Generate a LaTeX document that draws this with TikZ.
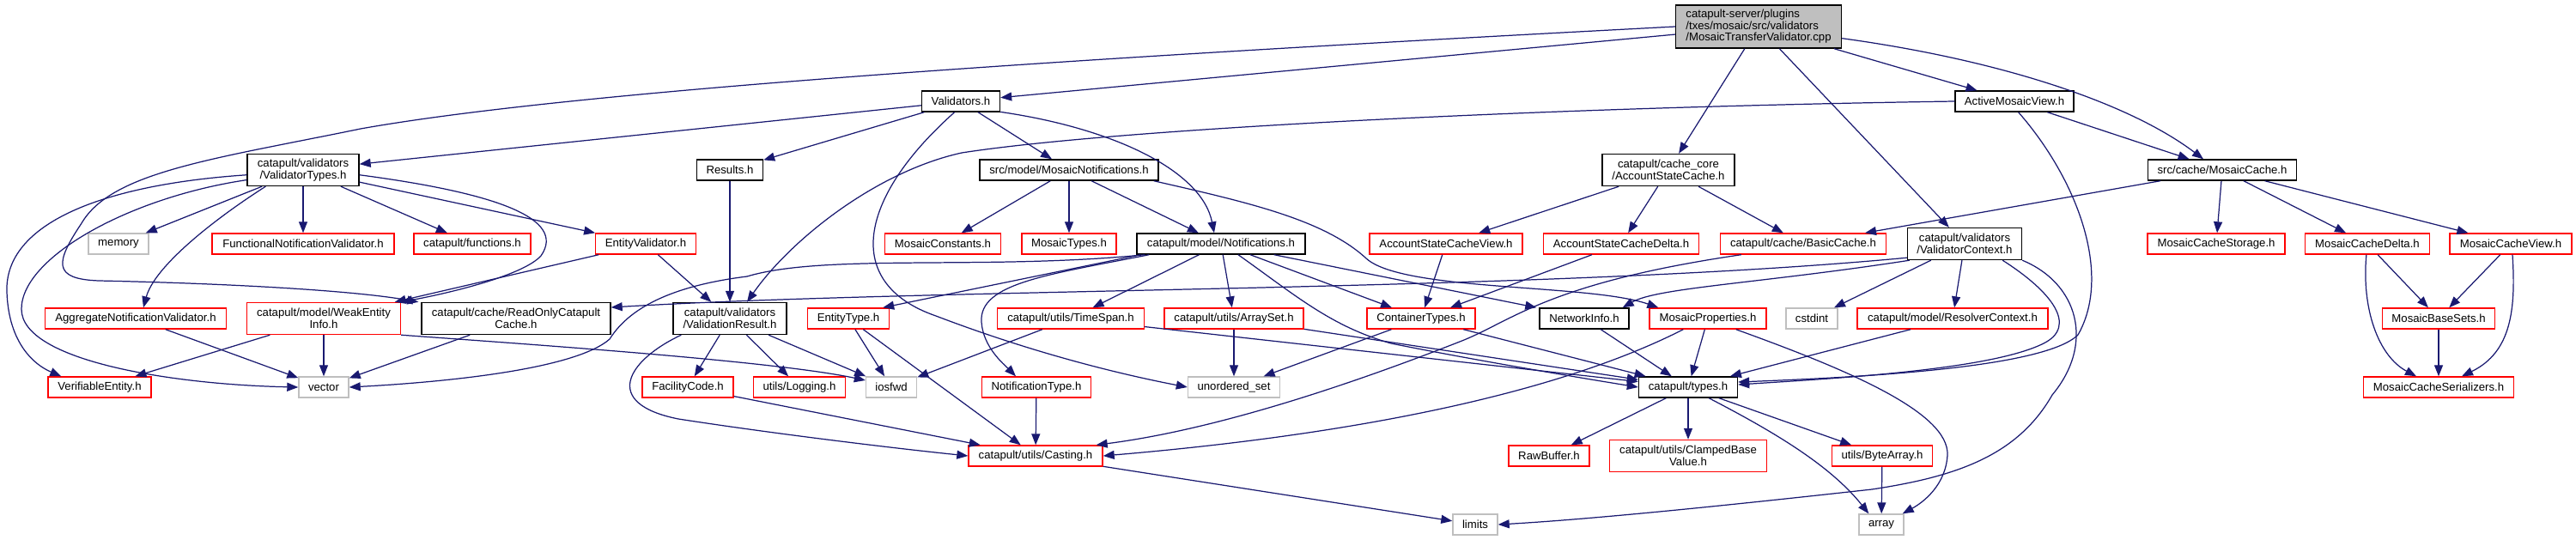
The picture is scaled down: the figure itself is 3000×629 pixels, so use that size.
\documentclass[tikz,border=0pt]{standalone}
\usepackage{fontspec}
\setmainfont{Liberation Sans}
\usetikzlibrary{arrows.meta, calc}

\definecolor{edgeblue}{RGB}{25,25,112}
\definecolor{sysgray}{RGB}{191,191,191}

\begin{document}
\begin{tikzpicture}[
    x=0.02cm, y=-0.02cm,
    hdr/.style={
        rectangle, fill=white,
        inner xsep=2pt, inner ysep=1pt,
        minimum height=0.48cm,
        align=center,
        font=\fontsize{7.5pt}{7.7pt}\selectfont,
        line width=0.8pt
    },
    doc/.style  ={hdr, draw=black},
    trunc/.style={hdr, draw=red},
    sys/.style  ={hdr, draw=sysgray},
    root/.style ={hdr, draw=black, fill=sysgray, align=left, minimum height=1.0cm},
    two/.style  ={minimum height=0.74cm},
    inc/.style={
        -{Triangle[length=0.26cm,width=0.2cm]},
        line width=0.7pt, color=edgeblue
    },
]
\useasboundingbox (0,0) rectangle (3000,629);

% ROW 0
\node[root, minimum width=3.86cm] (main) at (2048,31) {catapult-server/plugins\\/txes/mosaic/src/validators\\/MosaicTransferValidator.cpp};

% ROW 1
\node[doc, minimum width=1.82cm] (validators) at (1119,118) {Validators.h};
\node[doc, minimum width=2.76cm] (activeview) at (2346,118) {ActiveMosaicView.h};

% ROW 2
\node[doc, two, minimum width=2.6cm]  (vtypes)       at (353,198)  {catapult/validators\\/ValidatorTypes.h};
\node[doc, minimum width=1.54cm]      (results)      at (850,198)  {Results.h};
\node[doc, minimum width=4.16cm]      (mosaicnotif)  at (1245,198) {src/model/MosaicNotifications.h};
\node[doc, two, minimum width=3.08cm] (accountcache) at (1943,198) {catapult/cache\_core\\/AccountStateCache.h};
\node[doc, minimum width=3.46cm]      (mosaiccache)  at (2588,198) {src/cache/MosaicCache.h};

% ROW 3
\node[sys,   minimum width=1.4cm]  (memory)          at (138,284)  {memory};
\node[trunc, minimum width=4.24cm] (funcvalidator)   at (353,284)  {FunctionalNotificationValidator.h};
\node[trunc, minimum width=2.72cm] (functions)       at (550,284)  {catapult/functions.h};
\node[trunc, minimum width=2.34cm] (entityvalidator) at (752,284)  {EntityValidator.h};
\node[trunc, minimum width=2.7cm]  (mosaicconst)     at (1098,284) {MosaicConstants.h};
\node[trunc, minimum width=2.2cm]  (mosaictypes)     at (1245,284) {MosaicTypes.h};
\node[doc,   minimum width=3.92cm] (notifications)   at (1422,284) {catapult/model/Notifications.h};
\node[trunc, minimum width=3.56cm] (accview)         at (1684,284) {AccountStateCacheView.h};
\node[trunc, minimum width=3.62cm] (accdelta)        at (1888,284) {AccountStateCacheDelta.h};
\node[trunc, minimum width=3.86cm] (basiccache)      at (2100,284) {catapult/cache/BasicCache.h};
\node[doc, two, minimum width=2.66cm] (vcontext)     at (2288,284) {catapult/validators\\/ValidatorContext.h};
\node[trunc, minimum width=3.2cm]  (mcstorage)       at (2581,284) {MosaicCacheStorage.h};
\node[trunc, minimum width=2.9cm]  (mcdelta)         at (2757,284) {MosaicCacheDelta.h};
\node[trunc, minimum width=2.84cm] (mcview)          at (2924,284) {MosaicCacheView.h};

% ROW 4
\node[trunc, minimum width=4.22cm]      (aggvalidator)   at (158,371)  {AggregateNotificationValidator.h};
\node[trunc, two, minimum width=3.58cm] (weakentity)     at (377,371)  {catapult/model/WeakEntity\\Info.h};
\node[doc, two, minimum width=4.4cm]    (readonlycache)  at (601,371)  {catapult/cache/ReadOnlyCatapult\\Cache.h};
\node[doc, two, minimum width=2.64cm]   (vresult)        at (850,371)  {catapult/validators\\/ValidationResult.h};
\node[trunc, minimum width=1.9cm]       (entitytype)     at (988,371)  {EntityType.h};
\node[trunc, minimum width=3.42cm]      (timespan)       at (1247,371) {catapult/utils/TimeSpan.h};
\node[trunc, minimum width=3.24cm]      (arrayset)       at (1437,371) {catapult/utils/ArraySet.h};
\node[trunc, minimum width=2.52cm]      (containertypes) at (1655,371) {ContainerTypes.h};
\node[doc,   minimum width=2.08cm]      (networkinfo)    at (1845,371) {NetworkInfo.h};
\node[trunc, minimum width=2.72cm]      (mosaicprops)    at (1989,371) {MosaicProperties.h};
\node[sys,   minimum width=1.2cm]       (cstdint)        at (2110,371) {cstdint};
\node[trunc, minimum width=4.44cm]      (resolverctx)    at (2274,371) {catapult/model/ResolverContext.h};
\node[trunc, minimum width=2.62cm]      (basesets)       at (2840,371) {MosaicBaseSets.h};

% ROW 5
\node[trunc, minimum width=2.4cm]  (verifiable)   at (116,451)  {VerifiableEntity.h};
\node[sys,   minimum width=1.16cm] (vector)       at (377,451)  {vector};
\node[trunc, minimum width=2.12cm] (facilitycode) at (801,451)  {FacilityCode.h};
\node[trunc, minimum width=2.14cm] (logging)      at (931,451)  {utils/Logging.h};
\node[sys,   minimum width=1.18cm] (iosfwd)       at (1038,451) {iosfwd};
\node[trunc, minimum width=2.54cm] (notiftype)    at (1207,451) {NotificationType.h};
\node[sys,   minimum width=2.14cm] (unorderedset) at (1437,451) {unordered\_set};
\node[doc,   minimum width=2.3cm]  (types)        at (1966,451) {catapult/types.h};
\node[trunc, minimum width=3.5cm]  (serializers)  at (2840,451) {MosaicCacheSerializers.h};

% ROW 6
\node[trunc, minimum width=3.12cm]      (casting)   at (1206,531) {catapult/utils/Casting.h};
\node[trunc, minimum width=1.88cm]      (rawbuffer) at (1804,531) {RawBuffer.h};
\node[trunc, two, minimum width=3.66cm] (clamped)   at (1966,531) {catapult/utils/ClampedBase\\Value.h};
\node[trunc, minimum width=2.34cm]      (bytearray) at (2192,531) {utils/ByteArray.h};

% ROW 7
\node[sys, minimum width=1.04cm] (limits) at (1718,611) {limits};
\node[sys, minimum width=1.04cm] (array)  at (2191,611) {array};

% includes of the .cpp
\draw[inc] (main) -- (validators);
\draw[inc] (main) -- (accountcache);
\draw[inc] (main) -- (vcontext);
\draw[inc] (main) -- (activeview);
\draw[inc] (main.-8) .. controls (2330,70) and (2480,120) .. ($(mosaiccache.north)+(-22,0)$);
\draw[inc] (main.west) .. controls (1400,60) and (700,100) .. (420,150)
    .. controls (250,185) and (130,200) .. (95,260)
    .. controls (65,305) and (60,325) .. (115,327)
    .. controls (260,330) and (410,338) .. ($(readonlycache.north west)+(-3,0)$);

% Validators.h
\draw[inc] (validators) -- (vtypes);
\draw[inc] (validators) -- (results);
\draw[inc] (validators) -- (mosaicnotif);
\draw[inc] (validators.-15) .. controls (1300,150) and (1400,200) .. ($(notifications.north)+(-8,0)$);
\draw[inc] (validators.-120) .. controls (1000,230) and (980,330) .. (1090,368)
    .. controls (1200,410) and (1300,435) .. (unorderedset.west);

% ValidatorTypes.h
\draw[inc] (vtypes) -- (memory);
\draw[inc] (vtypes) -- (funcvalidator);
\draw[inc] (vtypes) -- (functions);
\draw[inc] (vtypes) -- (entityvalidator);
\draw[inc] ($(vtypes.south west)+(22,0)$) .. controls (250,255) and (180,310) .. ($(aggvalidator.north)+(9,0)$);
\draw[inc] (vtypes.185) .. controls (120,215) and (5,260) .. (8,340)
    .. controls (10,400) and (40,425) .. ($(verifiable.north west)+(16,0)$);
\draw[inc] (vtypes.190) .. controls (150,230) and (25,300) .. (25,360)
    .. controls (25,420) and (200,448) .. (vector.west);
\draw[inc] (vtypes.-5) .. controls (580,225) and (660,255) .. (630,298)
    .. controls (610,320) and (530,340) .. (weakentity.north east);

% second level
\draw[inc] (results) -- (vresult);
\draw[inc] (entityvalidator) -- (weakentity);
\draw[inc] (entityvalidator) -- (vresult);
\draw[inc] (mosaicnotif) -- (mosaicconst);
\draw[inc] (mosaicnotif) -- (mosaictypes);
\draw[inc] (mosaicnotif) -- (notifications);
\draw[inc] ($(mosaicnotif.south east)+(-6,0)$) .. controls (1450,235) and (1540,255) .. (1590,300)
    .. controls (1630,340) and (1850,330) .. ($(mosaicprops.north west)+(11,0)$);

% AccountStateCache.h
\draw[inc] (accountcache) -- (accview);
\draw[inc] (accountcache) -- (accdelta);
\draw[inc] (accountcache) -- (basiccache);
\draw[inc] (accview) -- (containertypes);
\draw[inc] (accdelta) -- (containertypes);
\draw[inc] ($(basiccache.south west)+(25,0)$) .. controls (1800,330) and (1760,375) .. (1700,398)
    .. controls (1580,445) and (1420,500) .. ($(casting.north east)+(-8,0)$);

% ActiveMosaicView.h and MosaicCache.h
\draw[inc] (activeview) -- (mosaiccache);
\draw[inc] (activeview.west) .. controls (1800,125) and (1300,150) .. (1120,178)
    .. controls (1020,200) and (920,280) .. ($(vresult.north)+(20,0)$);
\draw[inc] (activeview.-70) .. controls (2420,210) and (2460,320) .. (2420,390)
    .. controls (2380,430) and (2150,440) .. ($(types.east)+(0,-6)$);
\draw[inc] (mosaiccache) -- (basiccache);
\draw[inc] (mosaiccache) -- (mcstorage);
\draw[inc] (mosaiccache) -- (mcdelta);
\draw[inc] (mosaiccache) -- (mcview);
\draw[inc] (mcdelta) -- (basesets);
\draw[inc] (mcview) -- (basesets);
\draw[inc] (basesets) -- (serializers);
\draw[inc] (mcdelta.-95) .. controls (2750,360) and (2770,415) .. ($(serializers.north)+(-26,0)$);
\draw[inc] ($(mcview.south)+(2,0)$) .. controls (2930,360) and (2925,410) .. ($(serializers.north)+(27,0)$);

% Notifications.h
\draw[inc] (notifications) -- (timespan);
\draw[inc] (notifications) -- (arrayset);
\draw[inc] (notifications) -- (containertypes);
\draw[inc] ($(notifications.south west)+(5,0)$) -- ($(entitytype.north east)+(-8,0)$);
\draw[inc] ($(notifications.south east)+(-37,0)$) -- ($(networkinfo.north west)+(-3,0)$);
\draw[inc] ($(notifications.south)+(20,0)$) .. controls (1510,345) and (1550,380) .. (1620,400)
    .. controls (1720,420) and (1840,440) .. (types.west);
\draw[inc] ($(notifications.south west)+(10,0)$) .. controls (1150,315) and (960,295) .. (870,322)
    .. controls (790,332) and (735,355) .. (710,395)
    .. controls (670,430) and (520,445) .. (vector.east);
\draw[inc] ($(notifications.south west)+(15,0)$) .. controls (1220,320) and (1140,330) .. (1143,375)
    .. controls (1145,405) and (1170,425) .. ($(notiftype.north)+(-24,0)$);

% ValidatorContext.h
\draw[inc] (vcontext) -- (cstdint);
\draw[inc] (vcontext) -- (resolverctx);
\draw[inc] ($(vcontext.south west)+(0,-3)$) .. controls (1800,340) and (1100,335) .. ($(readonlycache.east)+(0,-13)$);
\draw[inc] ($(vcontext.south west)+(3,0)$) .. controls (2050,330) and (1930,335) .. ($(networkinfo.north east)+(-8,0)$);
\draw[inc] ($(vcontext.south east)+(-23,0)$) .. controls (2390,340) and (2420,380) .. (2380,400)
    .. controls (2320,430) and (2150,440) .. ($(types.east)+(0,-3)$);
\draw[inc] (vcontext.south east) .. controls (2420,330) and (2440,400) .. (2390,460)
    .. controls (2350,530) and (2280,555) .. (2180,570)
    .. controls (2000,590) and (1850,605) .. (limits.east);

% third level
\draw[inc] (aggvalidator) -- (vector);
\draw[inc] (weakentity) -- (verifiable);
\draw[inc] (weakentity) -- (vector);
\draw[inc] (weakentity.south east) .. controls (600,400) and (900,420) .. ($(iosfwd.west)+(0,-8)$);
\draw[inc] (readonlycache) -- (vector);
\draw[inc] (vresult) -- (facilitycode);
\draw[inc] (vresult) -- (logging);
\draw[inc] (vresult) -- (iosfwd);
\draw[inc] ($(vresult.south west)+(10,0)$) .. controls (730,420) and (700,470) .. (790,488)
    .. controls (900,505) and (1040,522) .. (casting.west);
\draw[inc] (entitytype) -- (iosfwd);
\draw[inc] (entitytype) -- (casting);
\draw[inc] (timespan) -- (iosfwd);
\draw[inc] (timespan) -- (types);
\draw[inc] (arrayset) -- (unorderedset);
\draw[inc] (arrayset) -- (types);
\draw[inc] (containertypes) -- (unorderedset);
\draw[inc] (containertypes) -- (types);
\draw[inc] (networkinfo) -- (types);
\draw[inc] (mosaicprops) -- (types);
\draw[inc] (resolverctx) -- (types);
\draw[inc] ($(mosaicprops.south west)+(40,0)$) .. controls (1850,440) and (1650,500) .. (casting.east);
\draw[inc] ($(mosaicprops.south east)+(-36,0)$) .. controls (2150,430) and (2270,480) .. (2268,530)
    .. controls (2266,565) and (2240,585) .. ($(array.north east)+(-2,0)$);

% bottom
\draw[inc] (notiftype) -- (casting);
\draw[inc] (facilitycode) -- (casting);
\draw[inc] (types) -- (rawbuffer);
\draw[inc] (types) -- (clamped);
\draw[inc] (types) -- (bytearray);
\draw[inc] ($(types.south east)+(-34,0)$) .. controls (2060,500) and (2130,540) .. ($(array.north west)+(12,0)$);
\draw[inc] (bytearray) -- (array);
\draw[inc] (casting) -- (limits);

\end{tikzpicture}
\end{document}
